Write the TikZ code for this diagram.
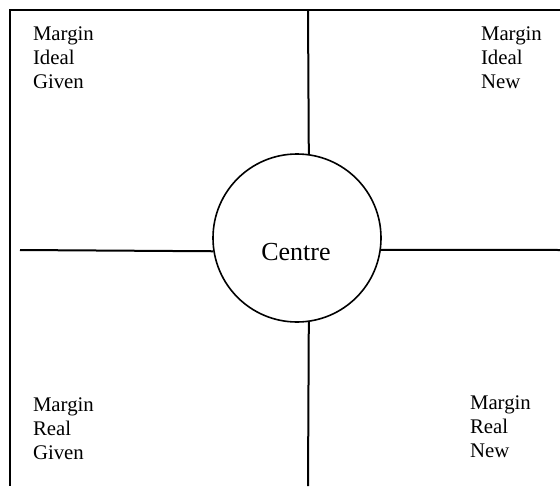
\documentclass[tikz,border=0pt]{standalone}
\usepackage{fontspec}
\setmainfont{Liberation Serif}

\tikzset{cornertext/.style={anchor=base west, align=left, inner sep=0pt, font=\fontsize{10.4}{12}\selectfont}}

\begin{document}
\begin{tikzpicture}[x=0.5pt, y=-0.5pt, line width=1pt]
\useasboundingbox (0,0) rectangle (560,486);
\coordinate (topleft) at (10,10);\coordinate (topright) at (560,10);\coordinate (bottomleft) at (10,486);
\coordinate (midtop) at (308,10);\coordinate (midbottom) at (308,486);
\coordinate (westend) at (20,250);\coordinate (eastend) at (560,250);
\draw (topright) -- (topleft) -- (bottomleft);
\node[draw, circle, minimum size=84pt, inner sep=0pt, line width=0.8pt] (centre) at (297,238) {};
\node[anchor=base, inner sep=0pt, font=\fontsize{13}{15}\selectfont] (centrelabel) at (296,260) {Centre};
\draw (midtop) -- (centre.82.5);\draw (centre.-82.5) -- (midbottom);
\draw (westend) -- (centre.-171.8);\draw (centre.-8.2) -- (eastend);
% base anchor sits on the last line
\node[cornertext] (idealgiven) at (32,89) {Margin\\Ideal\\Given};
\node[cornertext] (idealnew) at (480,89) {Margin\\Ideal\\New};
\node[cornertext] (realgiven) at (32,459) {Margin\\Real\\Given};
\node[cornertext] (realnew) at (469,457) {Margin\\Real\\New};
\end{tikzpicture}
\end{document}
